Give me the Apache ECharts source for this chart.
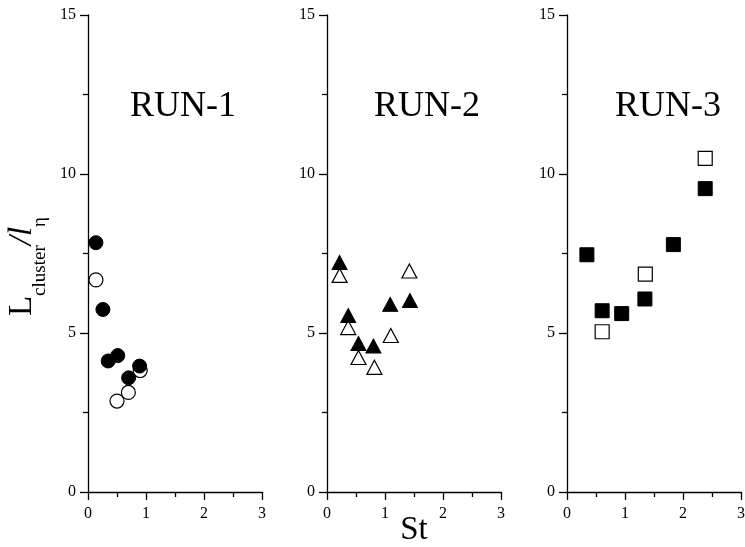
<!DOCTYPE html>
<html><head><meta charset="utf-8">
<script src="https://cdn.jsdelivr.net/npm/echarts@6/dist/echarts.min.js"></script>
<style>html,body{margin:0;padding:0;background:#fff}#c{width:745px;height:547px}</style>
</head><body><div id="c"></div>
<script>
// ---- data ----
const runTitles = ['RUN-1', 'RUN-2', 'RUN-3'];
const xTickValues = [0, 1, 2, 3];
const yTickValues = [0, 5, 10, 15];
const run1Filled = [[0.137, 7.84], [0.257, 5.74], [0.348, 4.12], [0.513, 4.29], [0.70, 3.59], [0.89, 3.96]];
const run1Open = [[0.137, 6.67], [0.50, 2.86], [0.696, 3.13], [0.90, 3.82]];
const run2Filled = [[0.217, 7.22], [0.366, 5.55], [0.543, 4.67], [0.80, 4.59], [1.09, 5.90], [1.43, 6.02]];
const run2Open = [[0.217, 6.81], [0.366, 5.17], [0.543, 4.23], [0.817, 3.92], [1.10, 4.92], [1.42, 6.95]];
const run3Filled = [[0.343, 7.46], [0.606, 5.70], [0.943, 5.61], [1.343, 6.07], [1.834, 7.78], [2.383, 9.54]];
const run3Open = [[0.606, 5.04], [1.35, 6.85], [2.383, 10.49]];

// ---- chart ----
const FONT = '"Liberation Serif", "Times New Roman", serif';
const chart = echarts.init(document.getElementById('c'), null, { renderer: 'canvas' });
const gridLefts = [88, 327, 567];
const lineStyle = { color: '#000', width: 1.3 };

const grids = gridLefts.map(l => ({ left: l, width: 174, top: 15, height: 477, outerBoundsMode: 'none', containLabel: false }));
const xAxes = gridLefts.map((l, i) => ({
  type: 'value', gridIndex: i,
  min: xTickValues[0], max: xTickValues[xTickValues.length - 1], interval: 1,
  axisLine: { show: true, onZero: false, lineStyle },
  axisTick: { show: true, length: 8, inside: false, lineStyle },
  minorTick: { show: true, splitNumber: 2, length: 5, lineStyle },
  splitLine: { show: false },
  axisLabel: { fontFamily: FONT, fontSize: 16, color: '#000', margin: 14 },
  name: i === 1 ? 'St' : '',
  nameLocation: 'middle', nameGap: 22, nameMoveOverlap: false,
  nameTextStyle: { fontFamily: FONT, fontSize: 33, color: '#000' }
}));
const yAxes = gridLefts.map((l, i) => ({
  type: 'value', gridIndex: i,
  min: yTickValues[0], max: yTickValues[yTickValues.length - 1], interval: 5,
  axisLine: { show: true, onZero: false, lineStyle },
  axisTick: { show: true, length: 8, inside: false, lineStyle },
  minorTick: { show: true, splitNumber: 2, length: 5, lineStyle },
  splitLine: { show: false },
  axisLabel: { fontFamily: FONT, fontSize: 16, color: '#000', margin: 12 },
  name: i === 0 ? '{L|L}{s|cluster}{i|/l}{e|η}' : '',
  nameLocation: 'middle', nameRotate: 90, nameGap: 38, nameMoveOverlap: false,
  nameTextStyle: {
    color: '#000',
    rich: {
      L: { fontFamily: FONT, fontSize: 33, color: '#000' },
      i: { fontFamily: FONT, fontSize: 33, fontStyle: 'italic', color: '#000' },
      s: { fontFamily: FONT, fontSize: 19, color: '#000', padding: [36, 0, 0, 0] },
      e: { fontFamily: FONT, fontSize: 19, color: '#000', padding: [36, 26, 0, 0] }
    }
  }
}));

const filledStyle = { color: '#000', borderColor: '#000', borderWidth: 1, opacity: 1 };
const openStyle = { color: '#fff', borderColor: '#000', borderWidth: 1.2, opacity: 1 };
function sc(data, idx, symbol, size, style) {
  return { type: 'scatter', xAxisIndex: idx, yAxisIndex: idx, data, symbol, symbolSize: size,
    itemStyle: style, silent: true, animation: false };
}
const series = [
  sc(run1Open, 0, 'circle', 14, openStyle),
  sc(run1Filled, 0, 'circle', 14, filledStyle),
  sc(run2Open, 1, 'triangle', [15, 14], openStyle),
  sc(run2Filled, 1, 'triangle', [15, 14], filledStyle),
  sc(run3Open, 2, 'rect', 14, openStyle),
  sc(run3Filled, 2, 'rect', 14, filledStyle)
];

const titleCenters = [183, 427, 668];
const graphic = runTitles.map((t, i) => ({
  type: 'text', x: titleCenters[i], y: 107,
  style: { text: t, align: 'center', verticalAlign: 'middle', font: '36px ' + FONT, fill: '#000' }
}));

chart.setOption({
  animation: false,
  backgroundColor: '#fff',
  grid: grids, xAxis: xAxes, yAxis: yAxes, series, graphic
});
</script>
</body></html>
